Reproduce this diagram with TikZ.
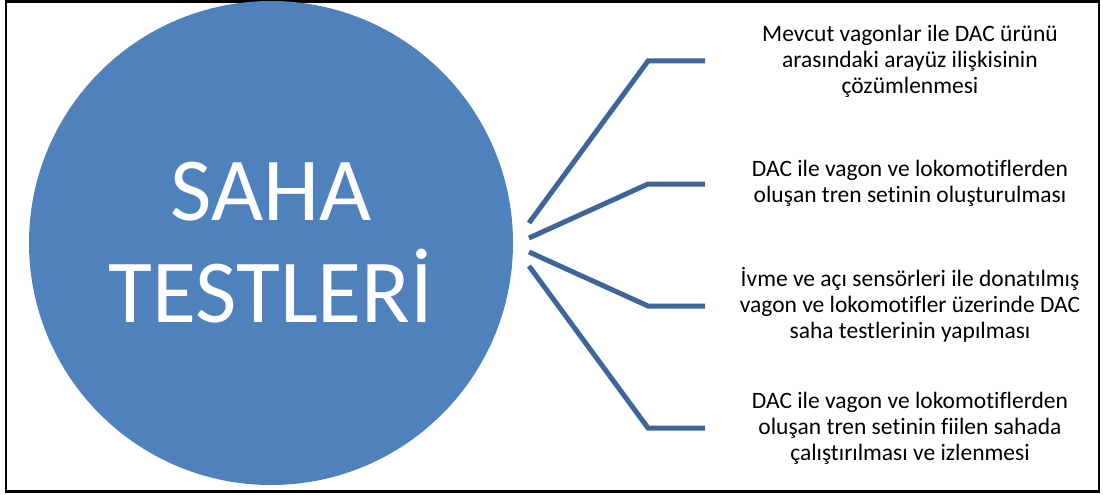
\documentclass[tikz,border=0pt]{standalone}
\usepackage{fontspec}
\setmainfont{Carlito}[Ligatures=NoCommon]
\definecolor{circblue}{HTML}{4F81BD}
\definecolor{lineblue}{HTML}{3E6699}
\begin{document}
\begin{tikzpicture}[x=1pt,y=-1pt]
\tikzstyle{frame}=[draw=black,line width=2.5pt]
\tikzstyle{hub}=[circle,fill=circblue,minimum size=484pt,inner sep=0pt,text=white,align=center,font=\fontsize{90}{102}\selectfont]
\tikzstyle{item}=[align=center,inner sep=0pt,font=\fontsize{23.5}{26}\selectfont]
\tikzstyle{branch}=[draw=lineblue,line width=5pt]
\useasboundingbox (0,0) rectangle (1103,495);
\draw[frame] (6,1.5) rectangle (1099,491.5);
\node[hub] (saha) at (271,243) {SAHA\\TESTLERİ};
\node[item] (t1) at (910,61) {Mevcut vagonlar ile DAC ürünü\\arasındaki arayüz ilişkisinin\\çözümlenmesi};
\node[item] (t2) at (910,183) {DAC ile vagon ve lokomotiflerden\\oluşan tren setinin oluşturulması};
\node[item] (t3) at (910,305) {İvme ve açı sensörleri ile donatılmış\\vagon ve lokomotifler üzerinde DAC\\saha testlerinin yapılması};
\node[item] (t4) at (910,428) {DAC ile vagon ve lokomotiflerden\\oluşan tren setinin fiilen sahada\\çalıştırılması ve izlenmesi};
\coordinate (s1) at (529,223); \coordinate (e1) at (705,61);
\coordinate (s2) at (529,238); \coordinate (e2) at (705,184);
\coordinate (s3) at (529,252); \coordinate (e3) at (705,306);
\coordinate (s4) at (529,266); \coordinate (e4) at (705,428);
\draw[branch] (s1) -- (648,61) -- (e1);
\draw[branch] (s2) -- (648,184) -- (e2);
\draw[branch] (s3) -- (648,306) -- (e3);
\draw[branch] (s4) -- (648,428) -- (e4);
\end{tikzpicture}
\end{document}
